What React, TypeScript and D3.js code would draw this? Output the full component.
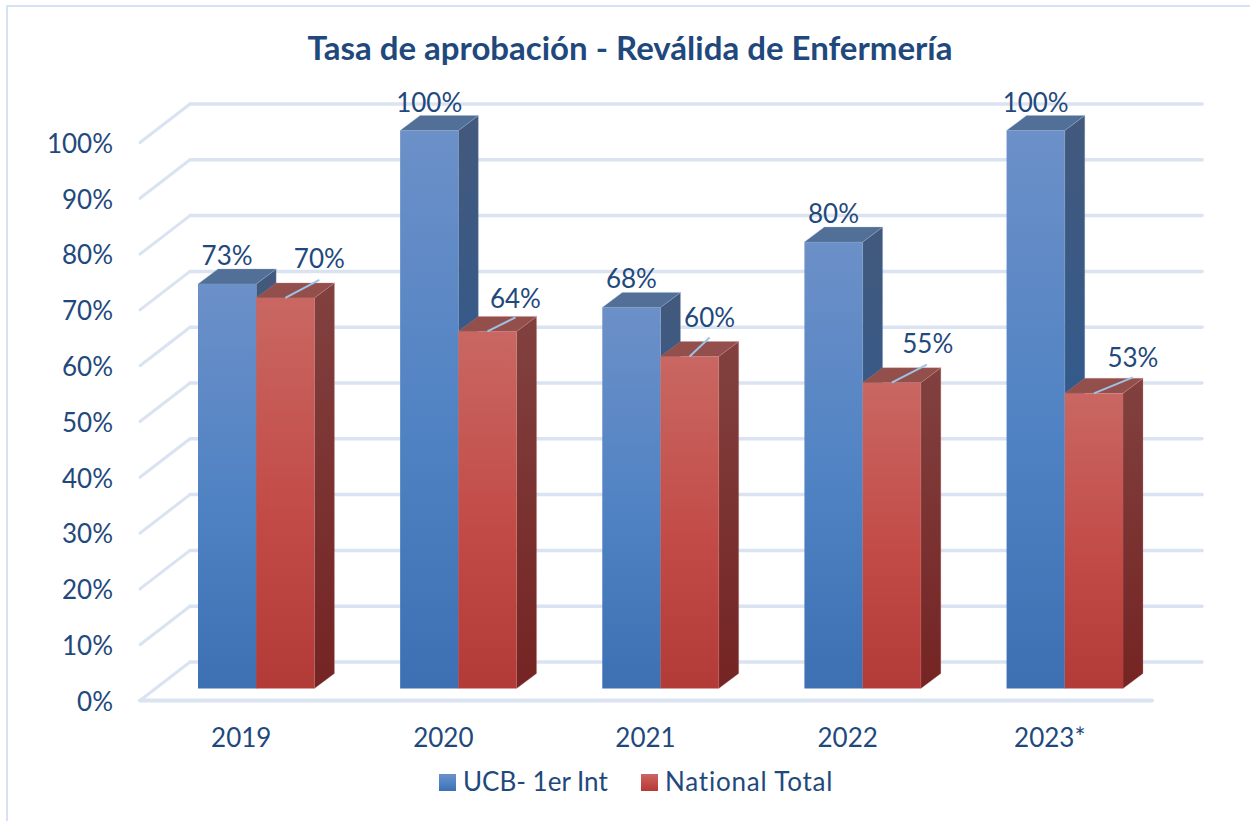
import React from "react";
import * as d3 from "d3";

const categories = ["2019", "2020", "2021", "2022", "2023*"];
const ucbValues = [72.5, 100, 68.3, 80, 100];
const nationalValues = [70, 64, 59.5, 54.8, 52.9];
const ucbLabels = ["73%", "100%", "68%", "80%", "100%"];
const nationalLabels = ["70%", "64%", "60%", "55%", "53%"];
const yTicks = [0, 10, 20, 30, 40, 50, 60, 70, 80, 90, 100];
const seriesNames = ["UCB- 1er Int", "National Total"];
const titleText = "Tasa de aprobación - Reválida de Enfermería";

// label placement relative to bar front-top centre
const ucbLabelOffset = [[0, -28], [0, -28], [0, -29], [0, -28], [0, -28]];
const natLabelOffset = [[34, -39], [28, -33], [20, -39], [36, -39], [39, -36]];
const natLeaderEnd = [[34, -18], [28, -14], [20, -19], [35, -18], [39, -16]];

const FONT = "Lato, 'Open Sans', sans-serif";
const TEXT = "#1f497d";
const GRID = "#dae3f1";
const DX = 20, DY = -15;

const y = d3.scaleLinear().domain([0, 100]).range([688.5, 130.5]);
const x = d3.scaleBand<string>().domain(categories).range([198, 1123]).paddingInner(0.424).paddingOuter(0);
const sub = d3.scaleBand<string>().domain(seriesNames).range([0, x.bandwidth()]);

const poly = (pts: number[][]) => (d3.line()(pts as [number, number][]) as string) + "Z";

function Bar({ cx, w, v, front, top, side, edge }: any) {
  const t = y(v), b = y(0);
  return (
    <g>
      <path d={poly([[cx + w, t], [cx + w + DX, t + DY], [cx + w + DX, b + DY], [cx + w, b]])} fill={`url(#${side})`} stroke={edge} strokeWidth={0.6} strokeOpacity={0.5} />
      <path d={poly([[cx, t], [cx + DX, t + DY], [cx + w + DX, t + DY], [cx + w, t]])} fill={top} stroke={edge} strokeWidth={0.6} strokeOpacity={0.5} />
      <rect x={cx} y={t} width={w} height={b - t} fill={`url(#${front})`} />
    </g>
  );
}

export default function App() {
  const gridX0 = 140, gridX1 = 190, gridX2 = 1202, floorX = 1152;
  const backDy = -26.5, frontDy = 12;
  return (
    <svg width={1250} height={821} style={{ position: "absolute", left: 0, top: 0, background: "#fff" }} fontFamily={FONT}>
      <defs>
        <linearGradient id="blueF" x1="0" y1="0" x2="0" y2="1">
          <stop offset="0" stopColor="#6c90c8" />
          <stop offset="0.55" stopColor="#4f82c3" />
          <stop offset="1" stopColor="#3c70b2" />
        </linearGradient>
        <linearGradient id="redF" x1="0" y1="0" x2="0" y2="1">
          <stop offset="0" stopColor="#c96762" />
          <stop offset="0.55" stopColor="#c24b47" />
          <stop offset="1" stopColor="#b23a37" />
        </linearGradient>
        <linearGradient id="blueS" x1="0" y1="0" x2="0" y2="1">
          <stop offset="0" stopColor="#43597c" />
          <stop offset="0.55" stopColor="#315a8e" />
          <stop offset="1" stopColor="#295a94" />
        </linearGradient>
        <linearGradient id="redS" x1="0" y1="0" x2="0" y2="1">
          <stop offset="0" stopColor="#81413f" />
          <stop offset="1" stopColor="#742423" />
        </linearGradient>
      </defs>

      <path d="M7,821V6H1250" fill="none" stroke="#d5e3f5" strokeWidth={2} />

      <text x={630} y={60} textAnchor="middle" fontSize={33} fontWeight={700} fill={TEXT}>{titleText}</text>

      <g fill="none" strokeLinecap="round">
        {yTicks.map((t) => (
          <g key={t}>
            <line x1={gridX1} x2={gridX2} y1={y(t) + backDy} y2={y(t) + backDy} stroke={GRID} strokeWidth={3.5} />
            <line x1={gridX0} x2={gridX1} y1={y(t) + frontDy} y2={y(t) + backDy} stroke={GRID} strokeWidth={3} />
          </g>
        ))}
        <line x1={gridX0} x2={floorX} y1={y(0) + frontDy} y2={y(0) + frontDy} stroke={GRID} strokeWidth={4} />
      </g>

      {yTicks.map((t) => (
        <text key={t} x={113} y={y(t) + frontDy + 1} dy="0.36em" textAnchor="end" fontSize={26} fill={TEXT}>{t}%</text>
      ))}

      {categories.map((c, i) => {
        const x0 = x(c) as number;
        const w = sub.bandwidth();
        const xa = x0 + (sub(seriesNames[0]) as number);
        const xb = x0 + (sub(seriesNames[1]) as number);
        return (
          <g key={c}>
            <Bar cx={xa} w={w} v={ucbValues[i]} front="blueF" side="blueS" top="#526f97" edge="#9db4d4" />
            <Bar cx={xb} w={w} v={nationalValues[i]} front="redF" side="redS" top="#934f4c" edge="#cf8a87" />
          </g>
        );
      })}

      {categories.map((c, i) => {
        const x0 = x(c) as number;
        const w = sub.bandwidth();
        const ca = x0 + (sub(seriesNames[0]) as number) + w / 2;
        const cb = x0 + (sub(seriesNames[1]) as number) + w / 2;
        const ta = y(ucbValues[i]), tb = y(nationalValues[i]);
        return (
          <g key={c} fontSize={26} fill={TEXT} textAnchor="middle">
            <line x1={cb} y1={tb} x2={cb + natLeaderEnd[i][0]} y2={tb + natLeaderEnd[i][1]} stroke="#9dc3e6" strokeWidth={2} />
            <text x={ca + ucbLabelOffset[i][0]} y={ta + ucbLabelOffset[i][1]} dy="0.36em">{ucbLabels[i]}</text>
            <text x={cb + natLabelOffset[i][0]} y={tb + natLabelOffset[i][1]} dy="0.36em">{nationalLabels[i]}</text>
            <text x={x0 + x.bandwidth() / 2 - 15} y={738} dy="0.36em">{c}</text>
          </g>
        );
      })}

      <g fontSize={26} fill={TEXT}>
        <rect x={439} y={774} width={17} height={17} fill="url(#blueF)" />
        <text x={463} y={791}>{seriesNames[0]}</text>
        <rect x={641} y={774} width={17} height={17} fill="url(#redF)" />
        <text x={665} y={791} letterSpacing={0.8}>{seriesNames[1]}</text>
      </g>
    </svg>
  );
}
